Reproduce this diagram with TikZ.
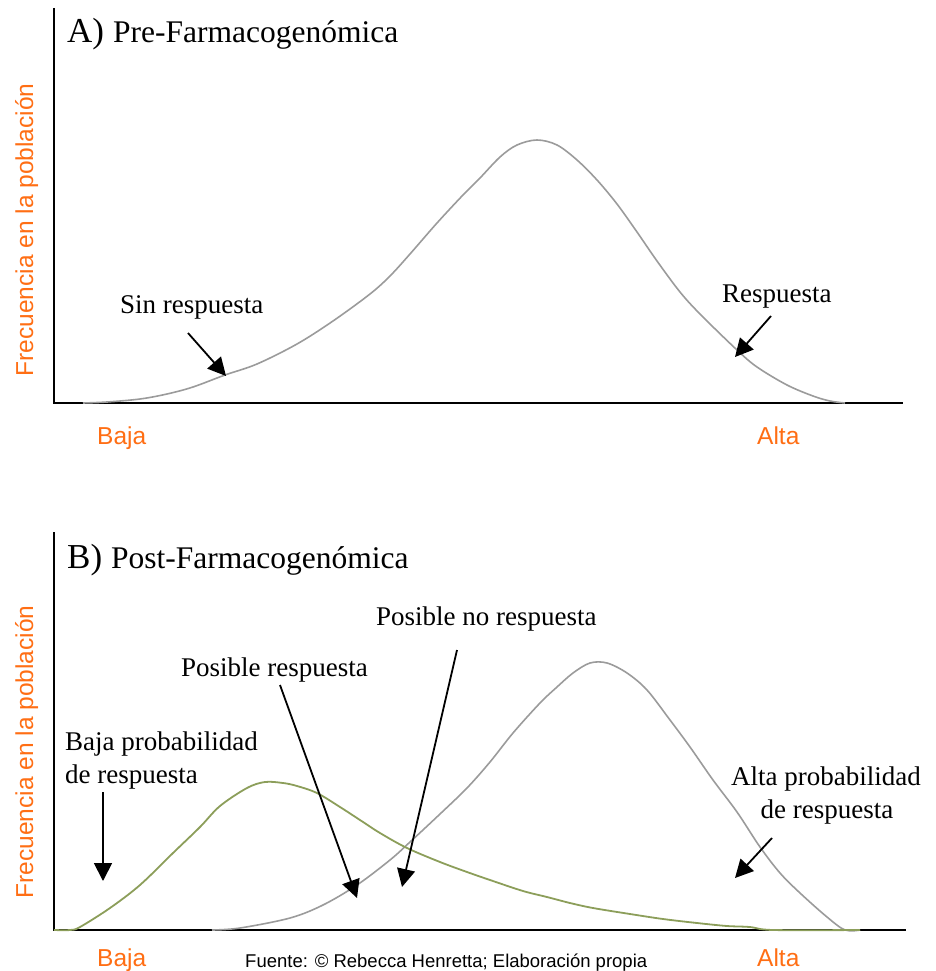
\documentclass[tikz,border=0pt]{standalone}
\usepackage{fontspec}
\setmainfont{Liberation Serif}
\newfontfamily\lsans{Liberation Sans}
\usetikzlibrary{arrows.meta}
\definecolor{orng}{RGB}{255,110,20}
\definecolor{crvgray}{RGB}{155,155,155}
\definecolor{crvgreen}{RGB}{140,158,90}
\begin{document}
\begin{tikzpicture}[x=1pt,y=-1pt,
  axisline/.style={line width=2pt,black},
  graycurve/.style={line width=1.6pt,crvgray,smooth,tension=0.55},
  greencurve/.style={line width=1.8pt,crvgreen,smooth,tension=0.55},
  ptr/.style={line width=1.8pt,black,-{Triangle[length=18pt,width=18pt]}},
  lbl/.style={inner sep=0pt,font=\fontsize{27}{30}\selectfont},
  olbl/.style={inner sep=0pt,text=orng,font=\lsans\fontsize{24.5}{28}\selectfont},
  ttl/.style={inner sep=0pt,anchor=base west}]
\useasboundingbox (0,0) rectangle (935,971);
% ---------- Panel A ----------
\coordinate (ayt) at (54,8);
\coordinate (ao) at (54,403);
\coordinate (axr) at (903,403);
\draw[axisline] (ayt) -- (ao) -- (axr);
\node[ttl] (tA) at (67,43) {{\fontsize{35}{40}\selectfont A)}\hspace{9pt}{\fontsize{31.5}{36}\selectfont Pre-Farmacogenómica}};
\draw[graycurve] plot coordinates {(83,403) (107,402) (140,399) (167,394) (193,387) (225,375) (257,364) (297,344) (333,321) (370,294) (390,276) (410,254) (437,223) (463,195) (480,178) (500,157) (517,145) (537,140) (557,145) (577,160) (597,180) (617,204) (637,232) (657,261) (680,292) (700,314) (737,350) (757,367) (787,385) (813,396) (830,401) (845,403)};
\node[olbl,rotate=90,anchor=base] (ylA) at (33,230) {Frecuencia en la población};
\node[olbl,anchor=base west] (bajaA) at (97,444) {Baja};
\node[olbl,anchor=base west] (altaA) at (757,444) {Alta};
\node[lbl,anchor=base west] (sinr) at (120,313) {Sin respuesta};
\node[lbl,anchor=base west] (resp) at (722,302) {Respuesta};
\coordinate (sinrS) at (188,333);
\coordinate (sinrT) at (226,376);
\coordinate (respS) at (771,316);
\coordinate (respT) at (735,357);
\draw[ptr] (sinrS) -- (sinrT);
\draw[ptr] (respS) -- (respT);
% ---------- Panel B ----------
\coordinate (byt) at (54,532);
\coordinate (bo) at (54,930);
\coordinate (bxr) at (906,930);
\draw[axisline] (byt) -- (bo) -- (bxr);
\node[ttl] (tB) at (67,568) {{\fontsize{35}{40}\selectfont B)}\hspace{9pt}{\fontsize{31.5}{36}\selectfont Post-Farmacogenómica}};
\draw[graycurve] plot coordinates {(212,930) (240,928) (290,918) (323,905) (357,885) (390,860) (410,842) (440,814) (467,788) (490,762) (513,733) (540,703) (557,687) (573,673) (590,663) (607,663) (627,673) (647,690) (670,720) (690,747) (713,780) (737,812) (760,847) (780,873) (800,893) (827,917) (845,930) (860,930)};
\draw[greencurve] plot coordinates {(54,930) (70,930) (80,927) (110,908) (140,885) (173,853) (200,827) (220,806) (247,788) (265,782) (283,783) (297,786) (317,793) (340,807) (360,820) (380,833) (407,848) (440,862) (467,872) (490,880) (523,891) (547,897) (570,903) (593,908) (630,914) (663,919) (697,923) (727,926) (750,927) (773,930) (860,930)};
\node[olbl,rotate=90,anchor=base] (ylB) at (33,752) {Frecuencia en la población};
\node[olbl,anchor=base west] (bajaB) at (97,966) {Baja};
\node[olbl,anchor=base west] (altaB) at (757,966) {Alta};
\node[inner sep=0pt,anchor=base west,font=\lsans\fontsize{18.5}{22}\selectfont] (src) at (245,967) {Fuente: © Rebecca Henretta; Elaboración propia};
\node[lbl,anchor=base west] (pnr) at (376,625) {Posible no respuesta};
\node[lbl,anchor=base west] (pr) at (181,676) {Posible respuesta};
\node[lbl,anchor=base west] (bp1) at (65,750) {Baja probabilidad};
\node[lbl,anchor=base west] (bp2) at (65,783) {de respuesta};
\node[lbl,anchor=base] (ap1) at (826,785) {Alta probabilidad};
\node[lbl,anchor=base] (ap2) at (827,818) {de respuesta};
\coordinate (bpS) at (103,792);
\coordinate (bpT) at (103,881);
\coordinate (prS) at (280,685);
\coordinate (prT) at (357,898);
\coordinate (pnrS) at (457,650);
\coordinate (pnrT) at (402,887);
\coordinate (apS) at (772,838);
\coordinate (apT) at (735,878);
\draw[ptr] (bpS) -- (bpT);
\draw[ptr] (prS) -- (prT);
\draw[ptr] (pnrS) -- (pnrT);
\draw[ptr] (apS) -- (apT);
\end{tikzpicture}
\end{document}
